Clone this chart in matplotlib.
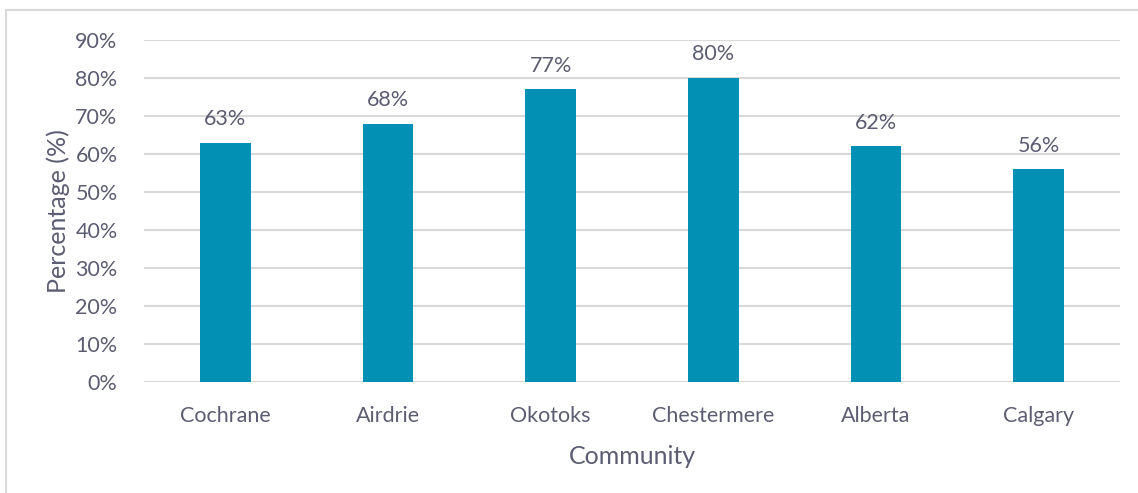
import matplotlib.pyplot as plt
from matplotlib.lines import Line2D
from matplotlib.ticker import PercentFormatter

communities = ['Cochrane', 'Airdrie', 'Okotoks', 'Chestermere', 'Alberta', 'Calgary']
percentages = [63, 68, 77, 80, 62, 56]

text_col = '#5c5c72'
bar_col = '#0291b4'

plt.rcParams['font.family'] = ['Lato', 'DejaVu Sans']

fig = plt.figure(figsize=(11.38, 4.93), dpi=100)
ax = fig.add_axes([144 / 1138, 1 - 382 / 493, 976 / 1138, 342 / 493])

x = range(len(communities))
bars = ax.bar(x, percentages, width=0.31, color=bar_col, zorder=3)
for b, v in zip(bars, percentages):
    ax.text(b.get_x() + b.get_width() / 2, v + 3.6, f'{v}%', ha='center', va='bottom',
            fontsize=15.5, color=text_col)

ax.set_xlim(-0.5, len(communities) - 0.5)
ax.set_ylim(0, 90)
ax.set_yticks(range(0, 91, 10))
ax.yaxis.set_major_formatter(PercentFormatter(decimals=0))
ax.set_xticks(list(x))
ax.set_xticklabels(communities)
ax.tick_params(length=0, labelsize=15.5, labelcolor=text_col)
ax.tick_params(axis='x', pad=17)
ax.tick_params(axis='y', pad=19)
ax.grid(axis='y', color='#d9d9d9', linewidth=1.5, zorder=0)
for s in ax.spines.values():
    s.set_visible(False)

ax.set_xlabel('Community', fontsize=18, color=text_col, labelpad=14)
ax.set_ylabel('Percentage (%)', fontsize=18, color=text_col, labelpad=4)

# thin frame around the chart area (top and left edges only)
fig.add_artist(Line2D([6 / 1138, 1], [1 - 10 / 493] * 2, transform=fig.transFigure,
                      color='#d9d9d9', linewidth=1.5))
fig.add_artist(Line2D([6 / 1138] * 2, [0, 1 - 10 / 493], transform=fig.transFigure,
                      color='#d9d9d9', linewidth=1.5))

fig.savefig('out.png', dpi=100)
